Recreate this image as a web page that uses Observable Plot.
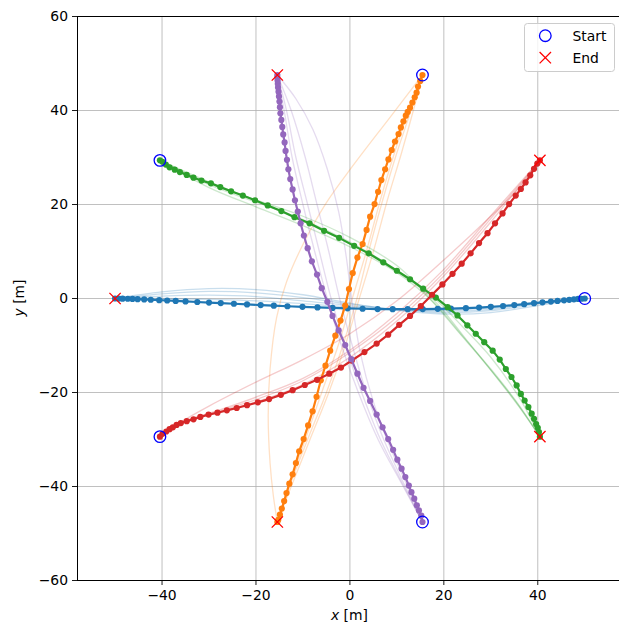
<!DOCTYPE html>
<html><head><meta charset="utf-8">
<script src="https://cdn.jsdelivr.net/npm/d3@7"></script>
<script src="https://cdn.jsdelivr.net/npm/@observablehq/plot@0.6"></script>
<style>html,body{margin:0;padding:0;background:#fff}#chart svg{display:block}</style>
</head><body><div id="chart"></div>
<script>
// ---- data ----
const agentColors = ["#1f77b4", "#ff7f0e", "#2ca02c", "#d62728", "#9467bd"];
const startX = [50, 15.45, -40.45, -40.45, 15.45];
const startY = [0, 47.55, 29.39, -29.39, -47.55];
const endX = [-50, -15.45, 40.45, 40.45, -15.45];
const endY = [0, -47.55, -29.39, 29.39, 47.55];
const xTicks = [-40, -20, 0, 20, 40];
const yTicks = [-60, -40, -20, 0, 20, 40, 60];
const legendLabels = ["Start", "End"];

const blueMain = [[50,0],[49.3,-0.05],[48.6,-0.1],[47.7,-0.18],[46.7,-0.28],[45.6,-0.38],[44.2,-0.52],[42.8,-0.66],[41.0,-0.82],[39.2,-1.0],[37.1,-1.2],[35.0,-1.4],[32.6,-1.6],[30.0,-1.78],[27.5,-1.93],[24.7,-2.05],[21.5,-2.15],[18.7,-2.2],[15.5,-2.25],[12.3,-2.27],[9.1,-2.27],[5.9,-2.24],[2.7,-2.18],[-0.5,-2.1],[-3.7,-2.0],[-6.9,-1.9],[-10.1,-1.78],[-13.3,-1.65],[-16.2,-1.52],[-19.0,-1.4],[-21.9,-1.26],[-24.7,-1.12],[-27.5,-0.98],[-30.0,-0.86],[-32.5,-0.74],[-35.0,-0.62],[-37.1,-0.52],[-38.9,-0.43],[-40.6,-0.35],[-42.4,-0.27],[-43.8,-0.2],[-45.2,-0.14],[-46.3,-0.09],[-47.3,-0.05],[-48.4,-0.03],[-49.2,-0.01],[-50,0]];
const blueFaint = [
  [[50,0],[40,-1.5],[30,-3.0],[20,-3.3],[10,-2.5],[0,-1.0],[-10,0.8],[-20,1.9],[-30,2.1],[-40,1.4],[-50,0]],
  [[50,0],[40,-1.2],[30,-2.6],[20,-3.0],[10,-2.3],[0,-1.2],[-10,0.2],[-20,1.2],[-30,1.5],[-40,1.0],[-50,0]],
  [[50,0],[40,-1.0],[30,-2.3],[20,-2.7],[10,-2.3],[0,-1.5],[-10,-0.5],[-20,0.4],[-30,0.7],[-40,0.5],[-50,0]],
  [[50,0],[40,-0.9],[30,-2.0],[20,-2.5],[10,-2.4],[0,-1.8],[-10,-1.1],[-20,-0.5],[-30,-0.2],[-40,0.0],[-50,0]]
];

const orangeMain = [[15.45,47.55],[14.97,46.3],[14.5,45.1],[14.2,43.8],[13.8,42.8],[13.3,41.7],[12.8,40.6],[12.3,39.7],[11.9,38.9],[11.4,37.7],[10.85,36.4],[10.35,35.0],[9.6,33.4],[8.9,31.6],[8.2,29.6],[7.5,27.5],[6.7,25.2],[6.0,22.7],[5.25,20.1],[4.3,17.4],[3.55,14.6],[2.7,11.6],[1.6,8.7],[0.6,5.4],[-0.2,2.0],[-1.0,-1.5],[-2.0,-4.7],[-3.1,-7.9],[-4.2,-11.1],[-5.2,-14.3],[-6.2,-17.4],[-7.1,-20.9],[-7.95,-24.0],[-8.9,-27.0],[-9.85,-29.9],[-10.8,-32.5],[-11.5,-35.0],[-12.2,-37.4],[-12.9,-39.4],[-13.5,-41.4],[-14.0,-43.1],[-14.5,-44.7],[-14.9,-46.0],[-15.25,-47.1],[-15.45,-47.55]];
const orangeFaint = [
  [[15.45,47.55],[8.5,38.5],[0.6,28.2],[-5,20.4],[-10,11.5],[-13.5,3.5],[-15.6,-4],[-17,-15],[-17.4,-25],[-17,-35],[-16.3,-42],[-15.45,-47.55]],
  [[15.45,47.55],[13,40],[10,31],[7,21],[4,10],[1.5,0],[-1.5,-10],[-5,-20],[-9,-30],[-12.5,-39],[-15.45,-47.55]],
  [[15.45,47.55],[13.5,40],[11,31],[8,21],[5,10],[2,0],[-1,-10],[-4.5,-20],[-8.5,-30],[-12.5,-40],[-15.45,-47.55]],
  [[15.45,47.55],[12.5,40],[9.5,31],[6.5,21],[3.5,10],[0.5,0],[-2.5,-10],[-6,-20],[-9.5,-30],[-13,-40],[-15.45,-47.55]]
];

const greenMain = [[-40.45,29.39],[-39.9,29.1],[-39.2,28.5],[-38.4,27.9],[-37.3,27.4],[-36.2,26.9],[-34.75,26.3],[-33.3,25.7],[-31.6,25.1],[-29.6,24.5],[-27.6,23.7],[-25.3,22.8],[-22.8,21.9],[-20.2,20.9],[-17.5,19.8],[-14.6,18.6],[-11.8,17.3],[-8.6,16.0],[-5.5,14.4],[-2.3,12.9],[0.9,11.2],[4.0,9.6],[7.1,7.7],[10.0,5.9],[12.8,4.1],[15.6,2.1],[18.3,0.2],[20.8,-1.85],[22.9,-3.6],[25.0,-5.7],[26.8,-7.5],[28.6,-9.3],[30.4,-11.1],[31.9,-13.0],[33.2,-15.0],[34.4,-16.7],[35.5,-18.5],[36.4,-20.3],[37.2,-21.7],[38.0,-23.1],[38.7,-24.5],[39.2,-25.6],[39.65,-26.7],[40.0,-27.5],[40.25,-28.4],[40.45,-29.39]];
const greenFaint = [
  [[-40.45,29.39],[-30,23.6],[-20,19.5],[-10,15.5],[0,11],[10,5.5],[18,-1],[24,-8],[30,-15],[35.5,-22],[40.45,-29.39]],
  [[-40.45,29.39],[-30,24.5],[-20,21],[-10,17.5],[0,13],[10,7],[17,0],[23,-7],[29,-14],[35,-21.5],[40.45,-29.39]],
  [[-40.45,29.39],[-30,24.2],[-20,20.5],[-10,16.8],[0,12],[10,6],[18,-0.5],[25,-9],[31,-16.5],[36,-23],[40.45,-29.39]],
  [[-40.45,29.39],[-30,24.8],[-20,20.8],[-10,16.4],[0,11.6],[10,5.8],[18,0],[24,-6],[30,-12.5],[36,-21],[40.45,-29.39]]
];

const redMain = [[-40.45,-29.39],[-39.9,-28.8],[-39.1,-28.3],[-38.4,-27.8],[-37.7,-27.4],[-36.9,-26.9],[-36.0,-26.5],[-34.75,-26.1],[-33.3,-25.7],[-31.85,-25.2],[-30.1,-24.7],[-28.2,-24.3],[-26.2,-23.8],[-24.1,-23.3],[-21.9,-22.7],[-19.6,-22.1],[-17.2,-21.4],[-14.7,-20.5],[-12.2,-19.5],[-9.6,-18.4],[-7.0,-17.3],[-4.4,-16.0],[-1.9,-14.7],[0.4,-13.2],[3.1,-11.4],[5.7,-9.6],[8.15,-7.7],[10.5,-5.6],[12.8,-3.7],[15.1,-1.6],[17.5,0.8],[19.7,3.0],[21.85,5.25],[23.8,7.4],[25.7,9.6],[27.5,11.8],[29.3,13.9],[30.9,16.0],[32.5,18.1],[33.9,20.1],[35.3,21.9],[36.4,23.3],[37.4,24.7],[38.4,26.2],[39.2,27.6],[39.9,28.7],[40.45,29.39]];
const redFaint = [
  [[-40.45,-29.39],[-36,-26.3],[-30,-22.9],[-20,-17.8],[-10,-13],[0,-7.5],[10,-0.5],[20,8.2],[30,17.5],[36,23.5],[40.45,29.39]],
  [[-40.45,-29.39],[-36,-26.5],[-28,-24.2],[-20,-22],[-10,-18.3],[0,-12.5],[10,-4.8],[20,4.8],[30,16.3],[40.45,29.39]],
  [[-40.45,-29.39],[-36,-26.5],[-28,-24.0],[-20,-21.5],[-10,-17.5],[0,-11.5],[10,-4],[20,5.5],[30,17],[40.45,29.39]],
  [[-40.45,-29.39],[-36,-26.4],[-28,-23.8],[-20,-21],[-10,-17],[0,-11],[10,-3.2],[20,6.2],[30,17.6],[40.45,29.39]]
];

const purpleMain = [[15.45,-47.55],[15.2,-46.2],[14.7,-45.1],[14.25,-44.0],[13.7,-42.6],[13.1,-41.2],[12.55,-39.8],[11.8,-38.0],[11.0,-36.2],[10.1,-34.3],[9.2,-32.2],[8.15,-29.9],[6.95,-27.4],[5.7,-24.7],[4.3,-21.8],[2.9,-19.0],[1.6,-16.0],[0.3,-12.9],[-1.0,-9.9],[-2.4,-6.8],[-3.7,-3.7],[-4.8,-0.7],[-6.0,2.2],[-7.0,5.1],[-8.1,7.9],[-9.0,10.7],[-9.8,13.4],[-10.5,16.0],[-11.1,18.5],[-11.7,20.9],[-12.2,23.2],[-12.7,25.4],[-13.1,27.5],[-13.4,29.5],[-13.7,31.4],[-13.9,33.2],[-14.2,34.9],[-14.4,36.5],[-14.6,38.0],[-14.8,39.4],[-14.9,40.7],[-15.0,41.9],[-15.1,43.0],[-15.2,44.0],[-15.3,44.9],[-15.35,45.7],[-15.4,46.4],[-15.45,47.0],[-15.45,47.55]];
const purpleFaint = [
  [[-15.45,47.55],[-11.5,42.5],[-7.9,36],[-4.8,27.5],[-2.4,18.5],[-0.8,9],[0.5,-1],[2.2,-11.5],[5,-22],[8.5,-31.5],[12.5,-40.5],[15.45,-47.55]],
  [[-15.45,47.55],[-13.5,40],[-11.5,30],[-9,20],[-6.5,10],[-4,0],[-1,-10],[2.5,-20],[6.5,-30],[11,-39],[15.45,-47.55]],
  [[-15.45,47.55],[-14,40],[-12.3,30],[-10,20],[-7.5,10],[-4.8,0],[-1.8,-10],[1.8,-20],[6,-30],[10.8,-39],[15.45,-47.55]],
  [[-15.45,47.55],[-12.5,40],[-9.5,30],[-7,20],[-4.5,10],[-2.2,0],[0.5,-10],[3.5,-20],[7.2,-30],[11.3,-39],[15.45,-47.55]]
];

// ---- build tables ----
const mains = [blueMain, orangeMain, greenMain, redMain, purpleMain];
const faints = [blueFaint, orangeFaint, greenFaint, redFaint, purpleFaint];
const mainRows = mains.flatMap((m, i) => m.map(([x, y]) => ({agent: i, x, y})));
const faintRows = faints.flatMap((f, i) => f.flatMap((p, k) => p.map(([x, y]) => ({agent: i, key: i + "-" + k, x, y}))));
const startRows = startX.map((x, i) => ({x, y: startY[i]}));
const endRows = endX.map((x, i) => ({x, y: endY[i]}));
const fmt = d => d < 0 ? "\u2212" + Math.abs(d) : String(d);

const marks = [
  Plot.gridX({ticks: xTicks, stroke: "#b0b0b0", strokeOpacity: 1, strokeWidth: 0.8}),
  Plot.gridY({ticks: yTicks, stroke: "#b0b0b0", strokeOpacity: 1, strokeWidth: 0.8})
];
agentColors.forEach((c, i) => {
  marks.push(Plot.line(faintRows.filter(r => r.agent === i), {x: "x", y: "y", z: "key", stroke: c, strokeOpacity: 0.24, strokeWidth: 1.3, curve: "catmull-rom"}));
});
agentColors.forEach((c, i) => {
  const rows = mainRows.filter(r => r.agent === i);
  marks.push(Plot.line(rows, {x: "x", y: "y", stroke: c, strokeWidth: 2.2}));
  marks.push(Plot.dot(rows, {x: "x", y: "y", r: 3.1, fill: c, stroke: "none"}));
});
marks.push(
  Plot.dot(startRows, {x: "x", y: "y", r: 5.8, stroke: "#0000ff", strokeWidth: 1.3, fill: "none"}),
  Plot.dot(endRows, {x: "x", y: "y", r: 5.2, symbol: "times", stroke: "#ff0000", strokeWidth: 1.3}),
  Plot.ruleY([60], {stroke: "black", strokeWidth: 1}),
  Plot.ruleY([-60], {stroke: "black", strokeWidth: 1}),
  Plot.ruleX([-58], {stroke: "black", strokeWidth: 1}),
  Plot.axisX({ticks: xTicks, tickFormat: fmt, tickSize: 5, tickPadding: 4.5, label: null, strokeWidth: 0.9}),
  Plot.axisY({ticks: yTicks, tickFormat: fmt, tickSize: 5, tickPadding: 4.5, label: null, strokeWidth: 0.9})
);

const svg = Plot.plot({
  width: 619, height: 627,
  marginLeft: 77, marginRight: 0, marginTop: 16, marginBottom: 47,
  x: {domain: [-58, 57.4]},
  y: {domain: [-60, 60]},
  style: {fontFamily: "DejaVu Sans", fontSize: "13.9px", color: "black", background: "white"},
  marks
});

const sx = svg.scale("x"), sy = svg.scale("y");
const s = d3.select(svg);
const xl = s.append("text").attr("x", sx.apply(0)).attr("y", 620).attr("text-anchor", "middle")
  .attr("font-family", "DejaVu Sans").attr("font-size", "13.9px").attr("fill", "black");
xl.append("tspan").attr("font-style", "italic").text("x");
xl.append("tspan").text(" [m]");
const yl = s.append("text").attr("transform", `translate(24,${sy.apply(0)}) rotate(-90)`).attr("text-anchor", "middle")
  .attr("font-family", "DejaVu Sans").attr("font-size", "13.9px").attr("fill", "black");
yl.append("tspan").attr("font-style", "italic").text("y");
yl.append("tspan").text(" [m]");

// legend
const lg = s.append("g");
lg.append("rect").attr("x", 524.5).attr("y", 23.5).attr("width", 90).attr("height", 48).attr("rx", 3)
  .attr("fill", "white").attr("fill-opacity", 0.8).attr("stroke", "#cccccc").attr("stroke-width", 1);
lg.append("circle").attr("cx", 545.3).attr("cy", 35.7).attr("r", 5.8).attr("fill", "none").attr("stroke", "#0000ff").attr("stroke-width", 1.3);
lg.append("path").attr("d", "M539.6,52 L551,63.4 M551,52 L539.6,63.4").attr("stroke", "#ff0000").attr("stroke-width", 1.3);
legendLabels.forEach((t, i) => {
  lg.append("text").attr("x", 572.5).attr("y", 40.7 + i * 22.3).attr("text-anchor", "start")
    .attr("font-family", "DejaVu Sans").attr("font-size", "13.9px").attr("fill", "black").text(t);
});

document.getElementById("chart").append(svg);
</script>
</body></html>
